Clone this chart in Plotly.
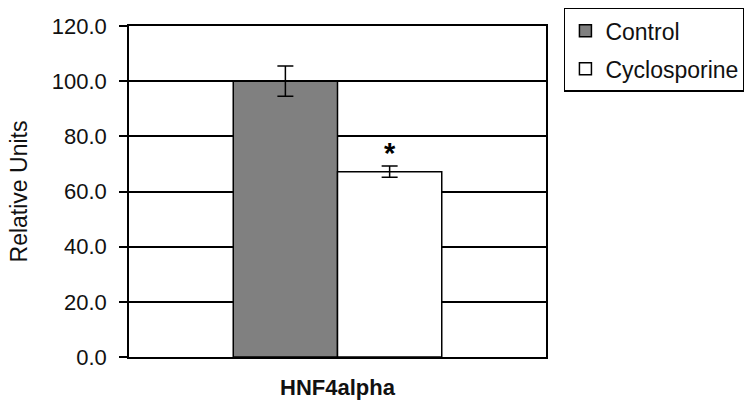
import plotly.graph_objects as go

categories = ["HNF4alpha"]
series_names = ["Control", "Cyclosporine"]
control_vals = [100.0]
control_err = [5.5]
cyclo_vals = [67.2]
cyclo_err = [2.0]
y_ticks = [0, 20, 40, 60, 80, 100, 120]
y_tick_labels = ["0.0", "20.0", "40.0", "60.0", "80.0", "100.0", "120.0"]

FONT = "Liberation Sans, Arial, sans-serif"

fig = go.Figure()
fig.add_trace(go.Bar(
    name=series_names[0], x=categories, y=control_vals,
    marker=dict(color="#808080", line=dict(color="black", width=1.5)),
    error_y=dict(type="data", array=control_err, color="black", thickness=1.5, width=8),
    legendgroup="a",
))
fig.add_trace(go.Bar(
    name=series_names[1], x=categories, y=cyclo_vals,
    marker=dict(color="white", line=dict(color="black", width=1.5)),
    error_y=dict(type="data", array=cyclo_err, color="black", thickness=1.5, width=8),
    legendgroup="b",
))

fig.add_annotation(x=0.125, y=67.3, xref="x", yref="y",
                   text="<b>*</b>", showarrow=False, yanchor="bottom",
                   font=dict(family=FONT, size=29, color="black"))

fig.update_layout(
    width=744, height=407,
    margin=dict(l=129, r=198, t=26, b=50, autoexpand=False),
    plot_bgcolor="white", paper_bgcolor="white",
    barmode="group", bargap=0.5, bargroupgap=0,
    font=dict(family=FONT, size=22, color="#111"),
    legend=dict(x=1.043, y=1.055, xanchor="left", yanchor="top",
                bordercolor="black", borderwidth=1.5,
                font=dict(family=FONT, size=23, color="#111"),
                traceorder="grouped", tracegroupgap=5),
    showlegend=True,
)
fig.update_yaxes(
    range=[0, 120], tickvals=y_ticks, ticktext=y_tick_labels,
    showgrid=True, gridcolor="black", gridwidth=1.5,
    showline=True, linecolor="black", linewidth=1.5, mirror=True,
    ticks="outside", ticklen=8, tickwidth=1.5, tickcolor="black",
    zeroline=False, ticklabelstandoff=8,
    title=dict(text="Relative Units", font=dict(family=FONT, size=23, color="#111"), standoff=18),
    tickfont=dict(family=FONT, size=22, color="#111"),
)
fig.update_xaxes(
    tickvals=categories, ticktext=["<b>HNF4alpha</b>"],
    showline=True, linecolor="black", linewidth=1.5, mirror=True,
    ticks="", ticklabelstandoff=10,
    tickfont=dict(family=FONT, size=22, color="#111"),
)

fig.write_html("out.html")
